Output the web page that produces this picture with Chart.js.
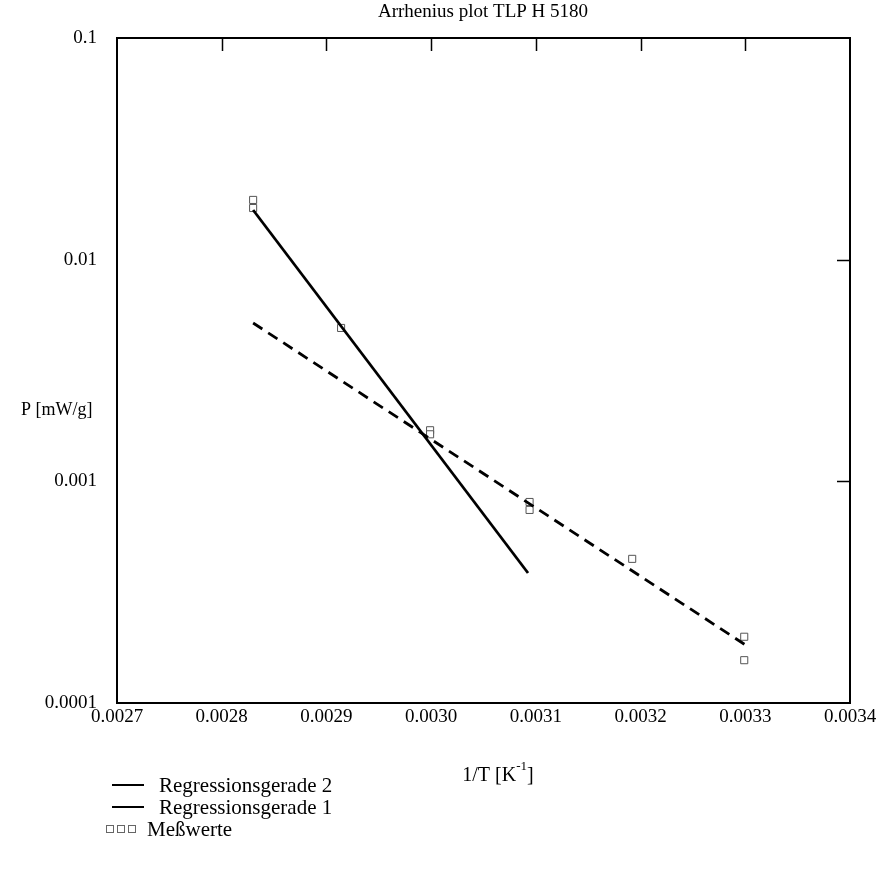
<!DOCTYPE html>
<html lang="de">
<head>
    <meta charset="UTF-8">
    <title>Arrhenius plot TLP H 5180</title>
    <script src="https://cdn.jsdelivr.net/npm/chart.js"></script>
    <style>
        body { margin: 0; background: #fff; }
        #wrap { width: 882px; height: 869px; position: relative; }
    </style>
</head>
<body>
<div id="wrap"><canvas id="arrhenius"></canvas></div>
<script>
    // Messwerte (1/T in 1/K, P in mW/g)
    const measX = [0.00283, 0.00283, 0.002914, 0.002999, 0.002999, 0.003094, 0.003094, 0.003192, 0.003299, 0.003299];
    const measY = [0.0186, 0.0171, 0.00492, 0.00170, 0.00163, 0.000807, 0.000743, 0.000447, 0.000199, 0.000156];

    // Regressionsgerade 1 (steil, durchgezogen)
    const reg1X = [0.00283, 0.0030925];
    const reg1Y = [0.01675, 0.000386];

    // Regressionsgerade 2 (flach, gestrichelt)
    const reg2X = [0.00283, 0.0033];
    const reg2Y = [0.00518, 0.000183];

    const xTicks = [0.0027, 0.0028, 0.0029, 0.0030, 0.0031, 0.0032, 0.0033, 0.0034];
    const yTicks = [0.0001, 0.001, 0.01, 0.1];
    const yTickLabels = ['0.0001', '0.001', '0.01', '0.1'];

    const toPts = (xs, ys) => xs.map((x, i) => ({ x: x, y: ys[i] }));
    const serif = '"Liberation Serif", "DejaVu Serif", serif';

    // Rahmen, Innenticks, Titel, Achsentitel, Legende
    const decorations = {
        id: 'decorations',
        afterDraw(chart) {
            const c = chart.ctx;
            const a = chart.chartArea;
            const xs = chart.scales.x, ys = chart.scales.y;
            c.save();
            c.strokeStyle = '#000';
            c.lineWidth = 2;
            c.strokeRect(a.left, a.top, a.right - a.left, a.bottom - a.top);

            c.lineWidth = 1.5;
            c.beginPath();
            xTicks.slice(1, -1).forEach(v => {
                const px = Math.round(xs.getPixelForValue(v)) + 0.5;
                c.moveTo(px, a.top); c.lineTo(px, a.top + 13);
            });
            [0.001, 0.01].forEach(v => {
                const py = Math.round(ys.getPixelForValue(v)) + 0.5;
                c.moveTo(a.right, py); c.lineTo(a.right - 13, py);
            });
            c.stroke();

            c.fillStyle = '#000';
            c.textBaseline = 'middle';
            c.textAlign = 'center';
            c.font = '19px ' + serif;
            c.fillText('Arrhenius plot TLP H 5180', 483, 12);

            c.textAlign = 'left';
            c.font = '18px ' + serif;
            c.fillText('P [mW/g]', 21, 410);

            // 1/T [K^-1]
            c.font = '20px ' + serif;
            const base = '1/T [K';
            const w = c.measureText(base).width;
            c.font = '13px ' + serif;
            const w2 = c.measureText('-1').width;
            c.font = '20px ' + serif;
            const wEnd = c.measureText(']').width;
            let x0 = 498 - (w + w2 + wEnd) / 2;
            c.fillText(base, x0, 776);
            c.font = '13px ' + serif;
            c.fillText('-1', x0 + w, 767);
            c.font = '20px ' + serif;
            c.fillText(']', x0 + w + w2, 776);

            // Legende
            c.font = '21px ' + serif;
            c.lineWidth = 2;
            c.beginPath();
            c.moveTo(112, 785); c.lineTo(144, 785);
            c.moveTo(112, 807); c.lineTo(144, 807);
            c.stroke();
            c.fillText('Regressionsgerade 2', 159, 786);
            c.fillText('Regressionsgerade 1', 159, 808);
            c.lineWidth = 1;
            c.strokeStyle = '#666';
            [106, 117, 128].forEach(px => c.strokeRect(px + 0.5, 825.5, 7, 7));
            c.fillText('Meßwerte', 147, 830);
            c.restore();
        }
    };

    new Chart(document.getElementById('arrhenius'), {
        type: 'scatter',
        data: {
            datasets: [
                {
                    label: 'Regressionsgerade 2',
                    data: toPts(reg2X, reg2Y),
                    showLine: true,
                    borderColor: '#000',
                    borderWidth: 2.8,
                    borderDash: [11, 7],
                    pointRadius: 0
                },
                {
                    label: 'Regressionsgerade 1',
                    data: toPts(reg1X, reg1Y),
                    showLine: true,
                    borderColor: '#000',
                    borderWidth: 2.8,
                    pointRadius: 0
                },
                {
                    label: 'Meßwerte',
                    data: toPts(measX, measY),
                    pointStyle: 'rect',
                    pointRadius: 5,
                    backgroundColor: '#fff',
                    borderColor: '#555',
                    borderWidth: 1
                }
            ]
        },
        options: {
            responsive: true,
            maintainAspectRatio: false,
            animation: false,
            layout: { padding: { top: 38, right: 32, left: 0, bottom: 0 } },
            plugins: {
                legend: { display: false },
                tooltip: { enabled: false }
            },
            scales: {
                x: {
                    type: 'linear',
                    min: 0.0027,
                    max: 0.0034,
                    afterBuildTicks: s => { s.ticks = xTicks.map(v => ({ value: v })); },
                    afterFit: s => { s.height = 166; },
                    grid: { display: false, drawTicks: false },
                    border: { display: false },
                    ticks: {
                        padding: 3,
                        color: '#000',
                        maxRotation: 0,
                        autoSkip: false,
                        font: { family: serif, size: 19 },
                        callback: v => v.toFixed(4)
                    }
                },
                y: {
                    type: 'logarithmic',
                    min: 0.0001,
                    max: 0.1,
                    afterBuildTicks: s => { s.ticks = yTicks.map(v => ({ value: v })); },
                    afterFit: s => { s.width = 117; },
                    grid: { display: false, drawTicks: false },
                    border: { display: false },
                    ticks: {
                        padding: 20,
                        color: '#000',
                        autoSkip: false,
                        font: { family: serif, size: 19 },
                        callback: v => yTickLabels[yTicks.findIndex(t => Math.abs(t - v) / t < 1e-6)] || ''
                    }
                }
            }
        },
        plugins: [decorations]
    });
</script>
</body>
</html>
